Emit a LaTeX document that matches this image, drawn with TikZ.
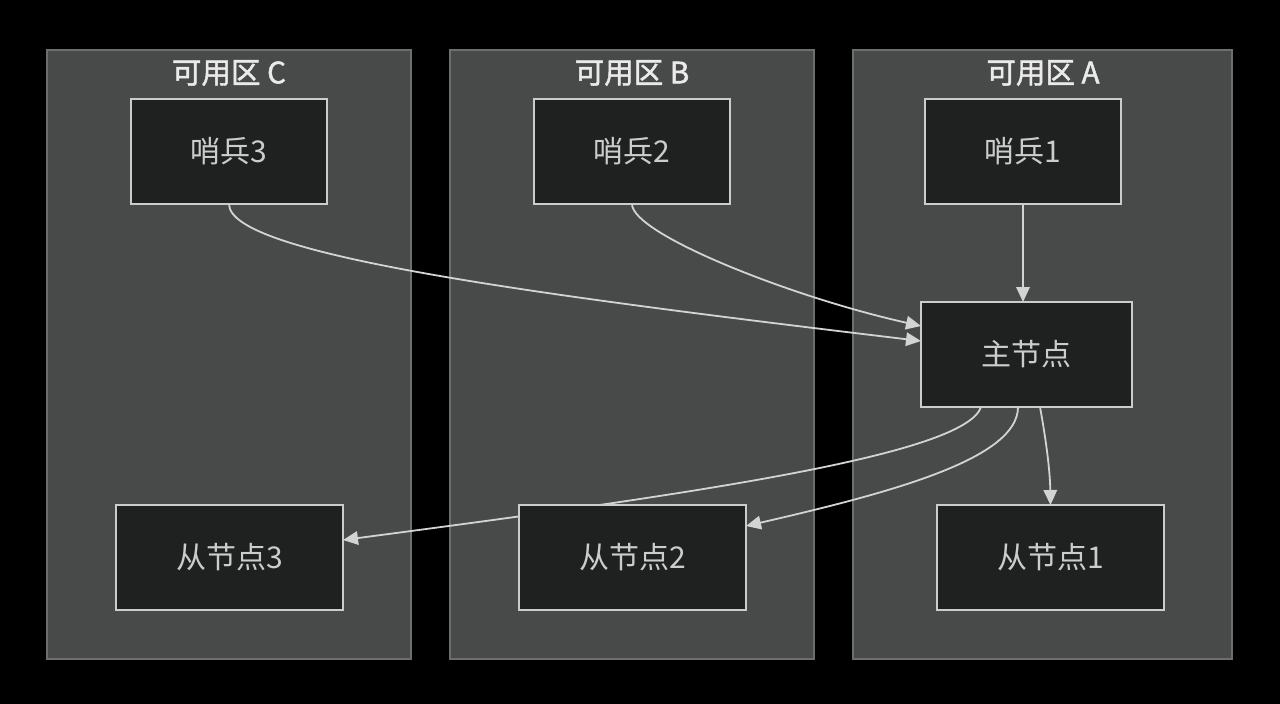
\documentclass[tikz,border=0pt]{standalone}
\usepackage{fontspec}
\setmainfont{Noto Sans CJK SC}
\newfontfamily\zonetitlefont{Noto Sans CJK SC}[FakeBold=1.6]
\usetikzlibrary{arrows.meta,calc}
\pgfdeclarelayer{background}
\pgfdeclarelayer{edgelayer}
\pgfsetlayers{background,edgelayer,main}
\definecolor{clusterfill}{HTML}{484A49}
\definecolor{clusterline}{HTML}{6E6E6E}
\definecolor{nodefill}{HTML}{1F2020}
\definecolor{nodeline}{HTML}{CCCCCC}
\definecolor{textcol}{HTML}{CCCCCC}
\definecolor{titlecol}{HTML}{EAEAEA}
\definecolor{edgecol}{HTML}{D3D3D3}
\tikzset{
  cluster/.style={fill=clusterfill, draw=clusterline, line width=1.4pt},
  ztitle/.style={text=titlecol, font=\fontsize{29.5}{34}\zonetitlefont, inner sep=0pt},
  box/.style={fill=nodefill, draw=nodeline, line width=1.6pt, inner sep=0pt, outer sep=0pt,
    text=textcol, font=\fontsize{30}{36}\selectfont, minimum height=105pt},
  narrow/.style={box, minimum width=196pt},
  wide/.style={box, minimum width=227pt},
  mid/.style={box, minimum width=211pt},
  edge/.style={draw=edgecol, line width=1.8pt, -{Triangle[length=15pt,width=13.5pt]}},
}
\begin{document}
\begin{tikzpicture}[x=1pt,y=-1pt]
\useasboundingbox (0,0) rectangle (1280,704);
\begin{pgfonlayer}{background}
  \fill[black] (0,0) rectangle (1280,704);
  \draw[cluster] (47,50) rectangle (411,659);
  \draw[cluster] (450,50) rectangle (814,659);
  \draw[cluster] (853,50) rectangle (1232,659);
\end{pgfonlayer}
\node[ztitle] (tC) at (229,73) {可用区 C};
\node[ztitle] (tB) at (632,73) {可用区 B};
\node[ztitle] (tA) at (1043,73) {可用区 A};

\node[narrow] (s3) at (229,151.5) {哨兵3};
\node[narrow] (s2) at (632,151.5) {哨兵2};
\node[narrow] (s1) at (1023,151.5) {哨兵1};
\node[mid] (m) at (1026.5,354.5) {主节点};
\node[wide] (sl3) at (229.5,557.5) {从节点3};
\node[wide] (sl2) at (632.5,557.5) {从节点2};
\node[wide] (sl1) at (1050.5,557.5) {从节点1};

\begin{pgfonlayer}{edgelayer}
  \draw[edge] (s1.south) -- (s1.south |- m.north);
  \draw[edge] (s2.south) .. controls (632,234) and (791,297) .. ($(m.north west)+(0,24)$);
  \draw[edge] (s3.south) .. controls (229,254) and (521,293) .. ($(m.north west)+(0,39)$);
  \draw[edge] ($(m.south)+(-45.5,0)$) .. controls (965,455) and (693,494) .. ($(sl3.east)+(0,-17.5)$);
  \draw[edge] ($(m.south)+(-8.5,0)$) .. controls (1018,458) and (896,491.5) .. ($(sl2.north east)+(0,21)$);
  \draw[edge] ($(m.south)+(13.5,0)$) .. controls (1046,440) and (1050,470) .. (sl1.north -| 1050.5,0);
\end{pgfonlayer}
\end{tikzpicture}
\end{document}
